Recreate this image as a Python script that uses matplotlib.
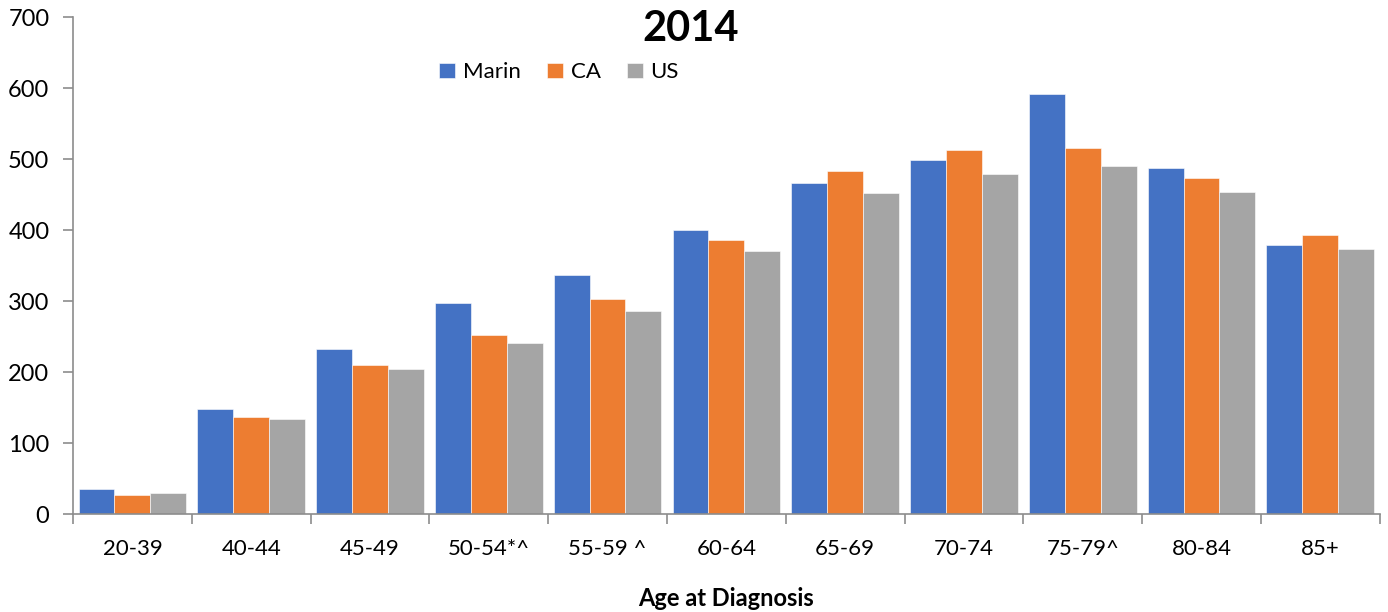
import numpy as np
import matplotlib
matplotlib.use("Agg")
import matplotlib.pyplot as plt

plt.rcParams['font.family'] = ['Lato', 'DejaVu Sans']

age_groups = ["20-39", "40-44", "45-49", "50-54*^", "55-59 ^", "60-64",
              "65-69", "70-74", "75-79^", "80-84", "85+"]
marin = [35, 148, 232, 297, 337, 400, 466, 499, 592, 488, 379]
ca = [27, 137, 210, 252, 303, 386, 483, 513, 515, 474, 393]
us = [30, 134, 204, 241, 286, 370, 452, 479, 490, 454, 373]

series = [("Marin", marin, "#4472C4"), ("CA", ca, "#ED7D31"), ("US", us, "#A5A5A5")]

fig = plt.figure(figsize=(13.88, 6.12), dpi=100)
ax = fig.add_axes([0.0526, 0.160, 0.9414, 0.812])

x = np.arange(len(age_groups))
width = 0.302
for i, (name, vals, col) in enumerate(series):
    ax.bar(x + (i - 1) * width, vals, width, color=col, label=name,
           edgecolor="white", linewidth=0.4)

ax.set_xlim(-0.5, len(age_groups) - 0.5)
ax.set_ylim(0, 700)
ax.set_yticks(np.arange(0, 701, 100))
ax.set_xticks(x)
ax.set_xticklabels(age_groups, fontsize=16)
ax.set_xticks(np.arange(-0.5, len(age_groups)), minor=True)
ax.tick_params(axis="x", which="major", length=0, pad=18)
ax.tick_params(axis="x", which="minor", length=7, color="#8c8c8c", width=1.2)
ax.tick_params(axis="y", length=7, color="#8c8c8c", width=1.2, labelsize=17, pad=10)

for s in ["top", "right"]:
    ax.spines[s].set_visible(False)
for s in ["left", "bottom"]:
    ax.spines[s].set_color("#8c8c8c")
    ax.spines[s].set_linewidth(1.2)

fig.text(0.4975, 0.952, "2014", fontsize=30, fontweight="bold", ha="center", va="center")
ax.set_xlabel("Age at Diagnosis", fontsize=17, fontweight="bold", labelpad=20)

ax.legend(loc="center", bbox_to_anchor=(0.372, 0.889), ncol=3, frameon=False,
          fontsize=16, handlelength=0.7, handleheight=0.7, handletextpad=0.35,
          columnspacing=1.2)

fig.savefig("out.png", dpi=100)
